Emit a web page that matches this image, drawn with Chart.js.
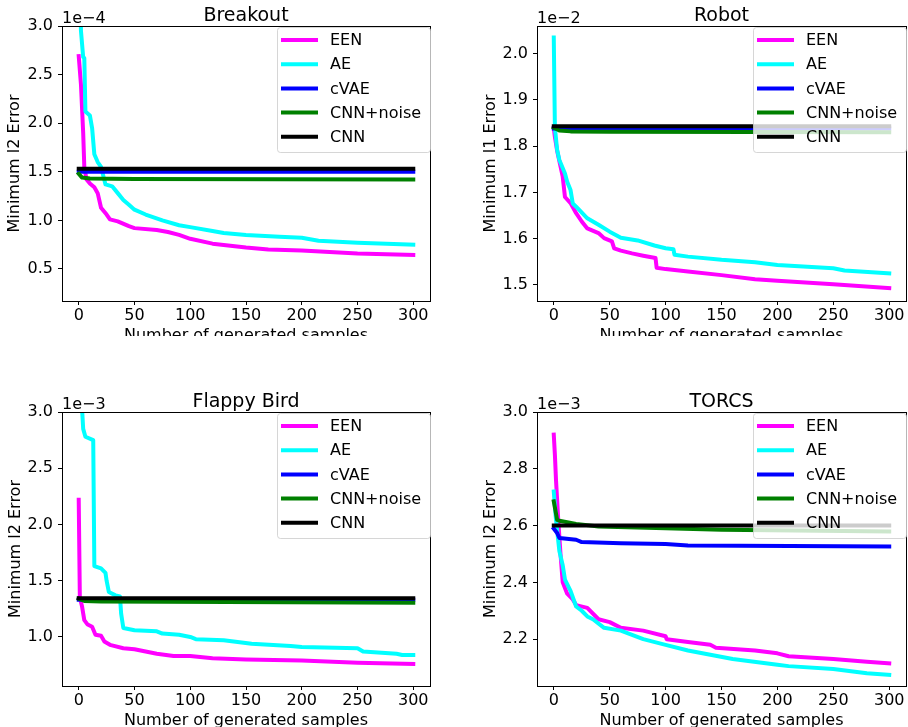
<!DOCTYPE html>
<html>
<head>
<meta charset="utf-8">
<script src="https://cdn.jsdelivr.net/npm/chart.js@4/dist/chart.umd.min.js"></script>
<style>
  body { margin: 0; background: #fff; }
  .panel { position: absolute; overflow: hidden; }
</style>
</head>
<body>
<div class="panel" style="left:0;top:0;width:454px;height:336px"><canvas id="c1" width="454" height="360"></canvas></div>
<div class="panel" style="left:454px;top:0;width:454px;height:336px"><canvas id="c2" width="454" height="360"></canvas></div>
<div class="panel" style="left:0;top:380px;width:454px;height:347px"><canvas id="c3" width="454" height="365"></canvas></div>
<div class="panel" style="left:454px;top:380px;width:454px;height:347px"><canvas id="c4" width="454" height="365"></canvas></div>
<script>
// 系列名稱與顏色
var seriesNames = ['EEN', 'AE', 'cVAE', 'CNN+noise', 'CNN'];
var seriesColors = ['#ff00ff', '#00ffff', '#0000ff', '#008000', '#000000'];
var xTicks = [0, 50, 100, 150, 200, 250, 300];

// Breakout (x 1e-4)
var bkEenX = [0, 2, 4, 5, 7, 10, 14, 17, 20, 25, 28, 35, 45, 50, 70, 80, 90, 100, 120, 150, 170, 200, 250, 300];
var bkEenY = [2.69, 2.4, 1.9, 1.55, 1.42, 1.38, 1.34, 1.28, 1.13, 1.06, 1.01, 0.99, 0.94, 0.92, 0.9, 0.88, 0.85, 0.81, 0.76, 0.72, 0.70, 0.69, 0.66, 0.645];
var bkAeX = [1, 2, 4, 5, 6, 10, 12, 14, 17, 20, 24, 30, 35, 40, 45, 50, 60, 75, 90, 100, 120, 130, 150, 180, 200, 215, 250, 300];
var bkAeY = [3.6, 2.95, 2.68, 2.67, 2.12, 2.08, 1.95, 1.68, 1.6, 1.55, 1.37, 1.35, 1.28, 1.21, 1.16, 1.11, 1.06, 1.0, 0.95, 0.93, 0.89, 0.87, 0.85, 0.83, 0.82, 0.79, 0.77, 0.75];
var bkVaeX = [0, 300];
var bkVaeY = [1.50, 1.50];
var bkNoiseX = [0, 3, 10, 50, 300];
var bkNoiseY = [1.48, 1.44, 1.43, 1.425, 1.42];
var bkCnnX = [0, 300];
var bkCnnY = [1.53, 1.53];
var bkTicks = [0.5, 1.0, 1.5, 2.0, 2.5, 3.0];

// Robot (x 1e-2)
var rbEenX = [0, 1, 3, 8, 10, 15, 20, 25, 30, 40, 45, 52, 54, 60, 70, 80, 91, 92, 100, 120, 150, 180, 200, 250, 300];
var rbEenY = [1.84, 1.82, 1.79, 1.734, 1.69, 1.677, 1.655, 1.637, 1.622, 1.612, 1.601, 1.594, 1.579, 1.574, 1.568, 1.563, 1.558, 1.537, 1.534, 1.529, 1.521, 1.512, 1.509, 1.501, 1.493];
var rbAeX = [0, 1, 3, 5, 10, 12, 15, 17, 20, 30, 40, 50, 60, 75, 90, 100, 107, 108, 120, 150, 180, 200, 250, 260, 300];
var rbAeY = [2.035, 1.84, 1.792, 1.77, 1.741, 1.723, 1.705, 1.676, 1.669, 1.644, 1.63, 1.615, 1.602, 1.596, 1.585, 1.579, 1.577, 1.565, 1.561, 1.554, 1.549, 1.543, 1.536, 1.531, 1.525];
var rbVaeX = [0, 300];
var rbVaeY = [1.838, 1.838];
var rbNoiseX = [0, 5, 15, 50, 300];
var rbNoiseY = [1.84, 1.834, 1.832, 1.831, 1.830];
var rbCnnX = [0, 300];
var rbCnnY = [1.843, 1.843];
var rbTicks = [1.5, 1.6, 1.7, 1.8, 1.9, 2.0];

// Flappy Bird (x 1e-3)
var fbEenX = [0, 1, 3, 5, 8, 12, 15, 20, 23, 28, 40, 50, 70, 85, 100, 120, 150, 200, 250, 300];
var fbEenY = [2.22, 1.35, 1.27, 1.15, 1.11, 1.09, 1.02, 1.01, 0.96, 0.93, 0.90, 0.89, 0.85, 0.83, 0.83, 0.81, 0.80, 0.79, 0.77, 0.76];
var fbAeX = [2, 4, 6, 13, 14, 20, 24, 25, 27, 33, 37, 38, 40, 50, 70, 75, 90, 100, 105, 130, 155, 190, 200, 250, 255, 285, 290, 300];
var fbAeY = [3.2, 2.85, 2.78, 2.75, 1.63, 1.61, 1.57, 1.5, 1.4, 1.37, 1.36, 1.21, 1.08, 1.06, 1.05, 1.03, 1.02, 1.0, 0.98, 0.97, 0.94, 0.92, 0.91, 0.90, 0.87, 0.85, 0.84, 0.84];
var fbVaeX = [0, 300];
var fbVaeY = [1.33, 1.33];
var fbNoiseX = [0, 5, 20, 300];
var fbNoiseY = [1.34, 1.32, 1.315, 1.305];
var fbCnnX = [0, 300];
var fbCnnY = [1.345, 1.345];
var fbTicks = [1.0, 1.5, 2.0, 2.5, 3.0];

// TORCS (x 1e-3)
var tcEenX = [0, 1, 2, 4, 6, 8, 12, 17, 20, 30, 40, 50, 60, 80, 100, 101, 120, 140, 145, 180, 200, 210, 250, 280, 300];
var tcEenY = [2.92, 2.85, 2.76, 2.62, 2.50, 2.40, 2.36, 2.34, 2.32, 2.31, 2.27, 2.26, 2.24, 2.23, 2.21, 2.20, 2.19, 2.18, 2.17, 2.16, 2.15, 2.14, 2.13, 2.12, 2.115];
var tcAeX = [0, 2, 5, 8, 10, 15, 20, 25, 30, 35, 45, 60, 80, 100, 120, 140, 160, 200, 210, 250, 280, 300];
var tcAeY = [2.72, 2.62, 2.51, 2.46, 2.41, 2.37, 2.315, 2.30, 2.28, 2.27, 2.24, 2.23, 2.20, 2.18, 2.16, 2.145, 2.13, 2.11, 2.105, 2.095, 2.08, 2.074];
var tcVaeX = [0, 3, 5, 20, 25, 60, 100, 120, 300];
var tcVaeY = [2.589, 2.574, 2.556, 2.55, 2.542, 2.538, 2.535, 2.53, 2.526];
var tcNoiseX = [0, 3, 5, 20, 40, 100, 150, 300];
var tcNoiseY = [2.685, 2.62, 2.617, 2.606, 2.597, 2.591, 2.585, 2.579];
var tcCnnX = [0, 300];
var tcCnnY = [2.60, 2.60];
var tcTicks = [2.2, 2.4, 2.6, 2.8, 3.0];

Chart.defaults.font.family = 'DejaVu Sans';
Chart.defaults.font.size = 16;
Chart.defaults.color = '#000';

function toPoints(xs, ys) {
	var pts = [];
	for (var i = 0; i < xs.length; i++) {
		pts.push({x: xs[i], y: ys[i]});
	}
	return pts;
}

// 外框、標題、1e-n 與圖例
var decor = {
	id: 'decor',
	afterDatasetsDraw: function(chart) {
		var c = chart.ctx, a = chart.chartArea;
		c.save();
		c.strokeStyle = '#000';
		c.lineWidth = 1;
		c.strokeRect(Math.round(a.left) + 0.5, Math.round(a.top) + 0.5, Math.round(a.right - a.left), Math.round(a.bottom - a.top));

		// 圖例 (半透明白底)
		var bw = 154, bh = 126;
		var bx = a.right - bw + 1, by = a.top + 1;
		c.beginPath();
		c.roundRect(bx + 0.5, by + 0.5, bw - 1, bh - 1, 3);
		c.fillStyle = 'rgba(255,255,255,0.8)';
		c.fill();
		c.strokeStyle = 'rgba(204,204,204,0.8)';
		c.stroke();
		c.font = '16px "DejaVu Sans"';
		c.textBaseline = 'middle';
		c.textAlign = 'left';
		chart.data.datasets.forEach(function(ds, i) {
			var y = by + 13 + i * 24.2;
			c.beginPath();
			c.moveTo(bx + 4, y);
			c.lineTo(bx + 41, y);
			c.strokeStyle = ds.borderColor;
			c.lineWidth = 4;
			c.stroke();
			c.fillStyle = '#000';
			c.fillText(ds.label, bx + 53, y + 1);
		});
		c.restore();
	},
	afterDraw: function(chart, args, opts) {
		var c = chart.ctx, a = chart.chartArea;
		c.save();
		c.fillStyle = '#000';
		c.textBaseline = 'alphabetic';
		c.font = '19px "DejaVu Sans"';
		c.textAlign = 'center';
		c.fillText(opts.title, (a.left + a.right) / 2, a.top - 5.5);
		c.font = '16px "DejaVu Sans"';
		c.textAlign = 'left';
		c.fillText(opts.exp, a.left, a.top - 3);
		c.restore();
	}
};

function drawPanel(id, p) {
	var sets = [];
	for (var i = 0; i < seriesNames.length; i++) {
		sets.push({
			label: seriesNames[i],
			data: toPoints(p.xs[i], p.ys[i]),
			borderColor: seriesColors[i],
			backgroundColor: seriesColors[i],
			borderWidth: 4,
			borderJoinStyle: 'round',
			borderCapStyle: 'square',
			pointRadius: 0,
			tension: 0,
			clip: 0,
			order: seriesNames.length - i  // 後面的系列畫在上層
		});
	}
	return new Chart(document.getElementById(id), {
		type: 'line',
		data: {datasets: sets},
		options: {
			responsive: false,
			animation: false,
			layout: {padding: {left: 0, right: p.padR, top: p.padTop, bottom: 0}},
			plugins: {
				legend: {display: false},
				tooltip: {enabled: false},
				decor: {title: p.title, exp: p.exp}
			},
			scales: {
				x: {
					type: 'linear',
					min: -15,
					max: 315,
					afterBuildTicks: function(s) { s.ticks = xTicks.map(function(v) { return {value: v}; }); },
					afterFit: function(s) { s.height = p.xh; },
					grid: {drawOnChartArea: false, drawTicks: true, tickLength: 4, color: '#000', tickWidth: 1},
					border: {display: false},
					ticks: {padding: 1, maxRotation: 0, autoSkip: false, callback: function(v) { return String(v); }},
					title: {display: true, text: 'Number of generated samples', padding: {top: 0, bottom: 14.4}}
				},
				y: {
					type: 'linear',
					min: p.ymin,
					max: p.ymax,
					afterBuildTicks: function(s) { s.ticks = p.yTicks.map(function(v) { return {value: v}; }); },
					afterFit: function(s) { s.width = p.yw; },
					grid: {drawOnChartArea: false, drawTicks: true, tickLength: 4, color: '#000', tickWidth: 1},
					border: {display: false},
					ticks: {padding: 5, autoSkip: false, callback: function(v) { return v.toFixed(1); }},
					title: {display: true, text: p.ylabel, padding: {top: p.ytPad, bottom: 0}}
				}
			}
		},
		plugins: [decor]
	});
}

drawPanel('c1', {
	title: 'Breakout', exp: '1e\u22124', ylabel: 'Minimum l2 Error',
	xs: [bkEenX, bkAeX, bkVaeX, bkNoiseX, bkCnnX],
	ys: [bkEenY, bkAeY, bkVaeY, bkNoiseY, bkCnnY],
	ymin: 0.17, ymax: 3.0, yTicks: bkTicks,
	padTop: 26, padR: 24, yw: 62, xh: 59, ytPad: 5.4
});
drawPanel('c2', {
	title: 'Robot', exp: '1e\u22122', ylabel: 'Minimum l1 Error',
	xs: [rbEenX, rbAeX, rbVaeX, rbNoiseX, rbCnnX],
	ys: [rbEenY, rbAeY, rbVaeY, rbNoiseY, rbCnnY],
	ymin: 1.465, ymax: 2.06, yTicks: rbTicks,
	padTop: 26, padR: 2, yw: 83, xh: 59, ytPad: 27
});
drawPanel('c3', {
	title: 'Flappy Bird', exp: '1e\u22123', ylabel: 'Minimum l2 Error',
	xs: [fbEenX, fbAeX, fbVaeX, fbNoiseX, fbCnnX],
	ys: [fbEenY, fbAeY, fbVaeY, fbNoiseY, fbCnnY],
	ymin: 0.564, ymax: 3.0, yTicks: fbTicks,
	padTop: 32, padR: 24, yw: 62, xh: 59, ytPad: 5.9
});
drawPanel('c4', {
	title: 'TORCS', exp: '1e\u22123', ylabel: 'Minimum l2 Error',
	xs: [tcEenX, tcAeX, tcVaeX, tcNoiseX, tcCnnX],
	ys: [tcEenY, tcAeY, tcVaeY, tcNoiseY, tcCnnY],
	ymin: 2.035, ymax: 3.0, yTicks: tcTicks,
	padTop: 32, padR: 2, yw: 83, xh: 59, ytPad: 27
});
</script>
</body>
</html>
